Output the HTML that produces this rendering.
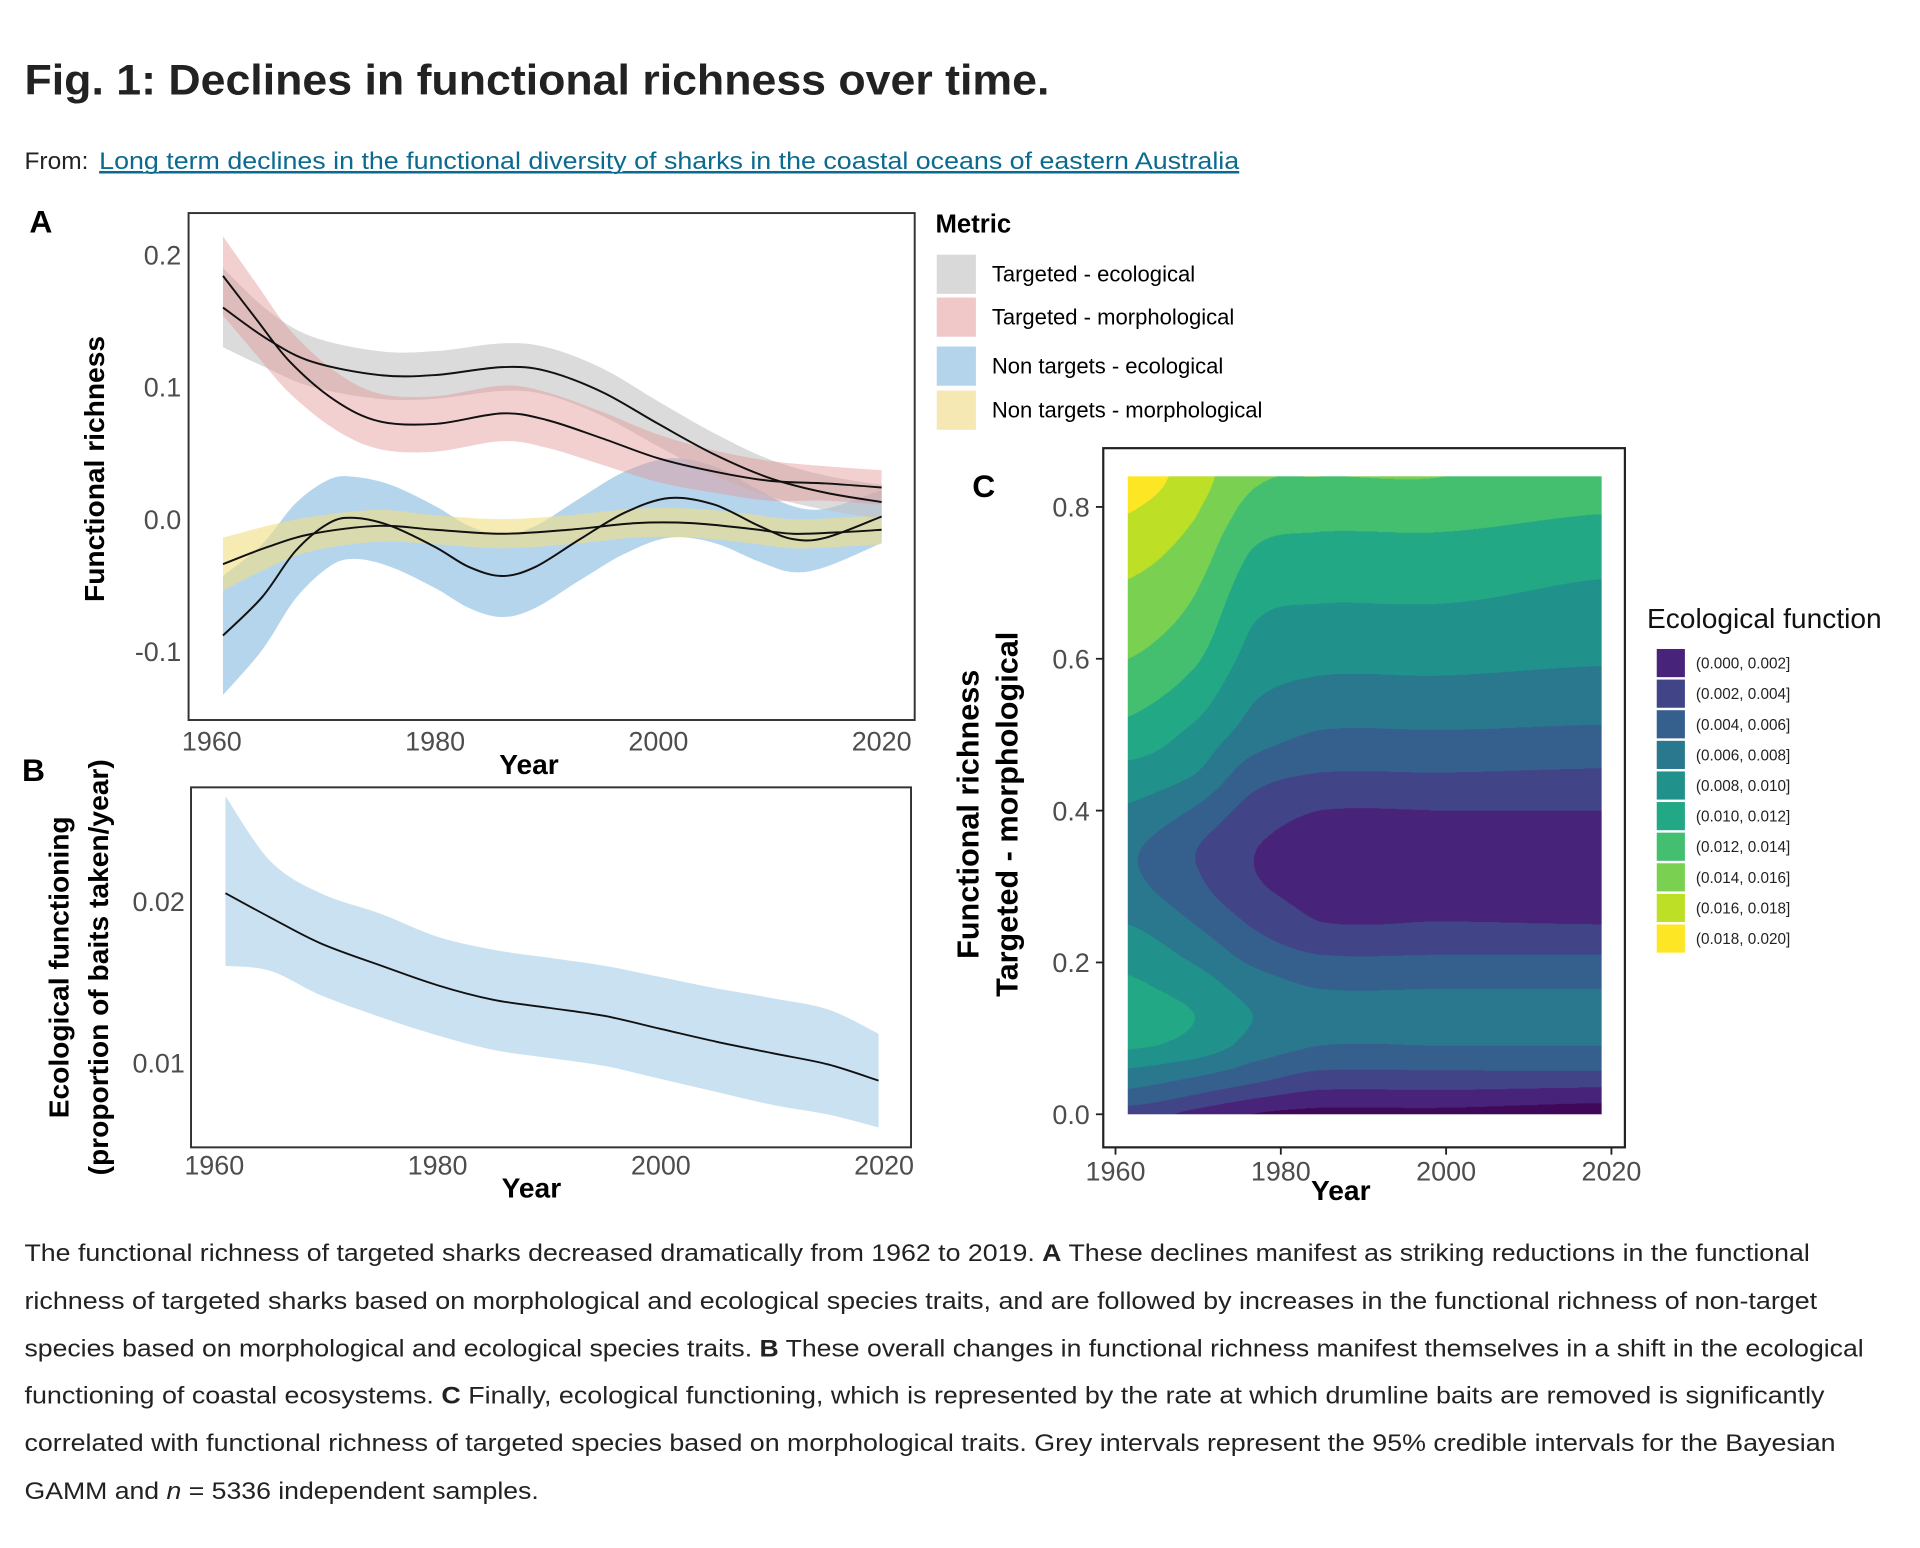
<!DOCTYPE html>
<html><head><meta charset="utf-8"><style>
html,body{margin:0;padding:0;background:#fff;overflow:hidden}
#wrap{position:absolute;left:0;top:0;width:1568px;height:1264px;transform:scale(1.22449);transform-origin:0 0}
#svg{position:absolute;left:0;top:0}
#contour{position:absolute;left:920px;top:389px;width:389px;height:521px}
text{font-family:"Liberation Sans",sans-serif}
</style></head><body>
<div id="wrap">
<svg id="svg" width="1568" height="1264" viewBox="0 0 1568 1264" xmlns="http://www.w3.org/2000/svg">
<text x="20" y="77" font-size="35" font-weight="bold" fill="#222" textLength="837" lengthAdjust="spacingAndGlyphs">Fig. 1: Declines in functional richness over time.</text>
<text x="20" y="138" font-size="20" fill="#222">From: </text>
<text x="81" y="138" font-size="20" fill="#0b6a8f" text-decoration="underline" textLength="931" lengthAdjust="spacingAndGlyphs">Long term declines in the functional diversity of sharks in the coastal oceans of eastern Australia</text>
<line x1="81" y1="141" x2="1012" y2="141" stroke="#0b6a8f" stroke-width="1.3"/>

<text x="24" y="190" font-size="26" font-weight="bold">A</text>
<g id="gA"></g>
<rect x="154" y="174" width="593" height="414" fill="none" stroke="#333" stroke-width="1.6"/>
<text transform="translate(85,383) rotate(-90)" text-anchor="middle" font-size="23" font-weight="bold">Functional richness</text>
<text x="432" y="632" text-anchor="middle" font-size="23" font-weight="bold">Year</text>

<text x="764" y="190" font-size="21" font-weight="bold">Metric</text>
<rect x="765" y="208" width="32" height="32" fill="#d9d9d9"/>
<rect x="765" y="243" width="32" height="32" fill="#f0c8c8"/>
<rect x="765" y="283" width="32" height="32" fill="#b3d4ea"/>
<rect x="765" y="319" width="32" height="32" fill="#f6e8b2"/>
<text x="810" y="230" font-size="18">Targeted - ecological</text>
<text x="810" y="265" font-size="18">Targeted - morphological</text>
<text x="810" y="305" font-size="18">Non targets - ecological</text>
<text x="810" y="341" font-size="18">Non targets - morphological</text>

<text x="18" y="638" font-size="26" font-weight="bold">B</text>
<g id="gB"></g>
<rect x="156" y="643" width="588" height="294" fill="none" stroke="#333" stroke-width="1.6"/>
<text transform="translate(56,790) rotate(-90)" text-anchor="middle" font-size="23" font-weight="bold">Ecological functioning</text>
<text transform="translate(88,790) rotate(-90)" text-anchor="middle" font-size="23" font-weight="bold">(proportion of baits taken/year)</text>
<text x="434" y="978" text-anchor="middle" font-size="23" font-weight="bold">Year</text>

<text x="794" y="406" font-size="26" font-weight="bold">C</text>
<g id="gC"></g>
<rect x="901" y="366" width="426" height="571" fill="none" stroke="#222" stroke-width="1.8"/>
<text transform="translate(799,665) rotate(-90)" text-anchor="middle" font-size="25" font-weight="bold">Functional richness</text>
<text transform="translate(831,665) rotate(-90)" text-anchor="middle" font-size="25" font-weight="bold">Targeted - morphological</text>
<text x="1095" y="980" text-anchor="middle" font-size="23" font-weight="bold">Year</text>
<text x="1345" y="513" font-size="23" fill="#111">Ecological function</text>
<g id="gLegC"></g>

<g font-size="20" fill="#222">
<text x="20" y="1030" textLength="1458" lengthAdjust="spacingAndGlyphs">The functional richness of targeted sharks decreased dramatically from 1962 to 2019. <tspan font-weight="bold">A</tspan> These declines manifest as striking reductions in the functional</text>
<text x="20" y="1069" textLength="1464" lengthAdjust="spacingAndGlyphs">richness of targeted sharks based on morphological and ecological species traits, and are followed by increases in the functional richness of non-target</text>
<text x="20" y="1108" textLength="1502" lengthAdjust="spacingAndGlyphs">species based on morphological and ecological species traits. <tspan font-weight="bold">B</tspan> These overall changes in functional richness manifest themselves in a shift in the ecological</text>
<text x="20" y="1146" textLength="1470" lengthAdjust="spacingAndGlyphs">functioning of coastal ecosystems. <tspan font-weight="bold">C</tspan> Finally, ecological functioning, which is represented by the rate at which drumline baits are removed is significantly</text>
<text x="20" y="1185" textLength="1479" lengthAdjust="spacingAndGlyphs">correlated with functional richness of targeted species based on morphological traits. Grey intervals represent the 95% credible intervals for the Bayesian</text>
<text x="20" y="1224" textLength="420" lengthAdjust="spacingAndGlyphs">GAMM and <tspan font-style="italic">n</tspan> = 5336 independent samples.</text>
</g>
</svg>
<canvas id="contour" width="778" height="1042"></canvas>
</div>
<script>
// ---------- Panel A data ----------
const teYears=[1961,1965,1969,1975,1980,1986,1990,1995,2000,2005,2010,2015,2020];
const teVals=[0.160,0.136,0.119,0.109,0.109,0.115,0.112,0.096,0.072,0.049,0.031,0.020,0.013];
const teHalf=[0.03,0.022,0.019,0.018,0.018,0.018,0.018,0.018,0.017,0.016,0.014,0.013,0.013];
const tmYears=[1961,1964,1967,1971,1975,1980,1986,1990,1995,2000,2005,2010,2015,2020];
const tmVals=[0.184,0.151,0.119,0.090,0.074,0.072,0.080,0.075,0.061,0.046,0.036,0.029,0.027,0.024];
const tmHalf=[0.03,0.027,0.024,0.022,0.021,0.021,0.021,0.021,0.02,0.018,0.016,0.015,0.013,0.013];
const neYears=[1961,1964.5,1967.5,1970.5,1972.8,1976,1980,1983,1986,1989,1993,1997,2001,2005,2009,2012,2015,2020];
const neVals=[-0.088,-0.059,-0.024,-0.003,0.001,-0.005,-0.021,-0.036,-0.043,-0.036,-0.015,0.005,0.016,0.011,-0.005,-0.015,-0.014,0.002];
const neHalf=[0.045,0.04,0.036,0.033,0.031,0.031,0.031,0.031,0.031,0.031,0.031,0.031,0.03,0.029,0.027,0.025,0.022,0.02];
const nmYears=[1961,1965,1969,1975,1980,1986,1992,1998,2003,2008,2012,2016,2020];
const nmVals=[-0.034,-0.021,-0.011,-0.005,-0.008,-0.011,-0.008,-0.003,-0.003,-0.007,-0.011,-0.010,-0.008];
const nmHalf=[0.02,0.016,0.013,0.012,0.011,0.011,0.011,0.011,0.011,0.011,0.011,0.011,0.011];
const aYTicks=[0.2,0.1,0.0,-0.1];
const aYTickLabels=["0.2","0.1","0.0","-0.1"];
const xTicks=[1960,1980,2000,2020];
// ---------- Panel B data ----------
const bYears=[1961,1965,1969.5,1975,1980,1985,1990,1995,2000,2005,2010,2015,2019.5];
const bMean=[0.0205,0.019,0.0174,0.016,0.0148,0.0139,0.0134,0.0129,0.0121,0.0113,0.0106,0.0099,0.0089];
const bHi=[0.0265,0.0225,0.0205,0.0192,0.0178,0.017,0.0165,0.016,0.0153,0.0146,0.014,0.0133,0.0118];
const bLo=[0.016,0.0157,0.0142,0.0128,0.0117,0.0108,0.0103,0.0098,0.009,0.0082,0.0074,0.0068,0.006];
const bYTicks=[0.02,0.01];
const bYTickLabels=["0.02","0.01"];
// ---------- Panel C data ----------
const cYears=[1962,1970,1977,1985,2000,2019];
const cRich=[0,0.02,0.04,0.06,0.09,0.13,0.17,0.21,0.25,0.30,0.35,0.40,0.45,0.50,0.55,0.60,0.65,0.70,0.75,0.80,0.84];
const cZ1962=[3,5,6.5,8,10.3,11,10.3,9.3,8,6.5,6.3,7.7,9.4,11.3,12.7,14,15,15.9,17,18.2,19.2];
const cZ1970=[1.5,3.5,5.3,7,9.3,10,9,7.5,6,4.5,4.1,5.8,8.1,9.5,11,12.3,13.4,14.3,15.3,16.3,17];
const cZ1977=[0,2,4,5.5,7.3,8,7,5.3,3.8,2.3,2.1,3.2,5,7.1,8.2,9.3,10.1,11.1,12.1,13.4,14.3];
const cZ1985=[-0.5,1,2.7,4.2,6,7,5.8,4,2.1,1.3,1.2,2.0,4,5.8,7.3,8.5,9.5,10.6,11.6,12.8,14];
const cZ2000=[-0.5,1,2.7,4.2,6,7,5.8,4,2.1,1.3,1.2,2.0,4,5.8,7.3,8.5,9.5,10.6,11.6,12.8,14];
const cZ2019=[-1,0.5,2.5,4.3,6,7,5.8,4,2,1.3,1.2,2,3.8,5.6,7,8.2,9,9.9,11,12.2,13];
const cYTicks=[0,0.2,0.4,0.6,0.8];
const cYTickLabels=["0.0","0.2","0.4","0.6","0.8"];
const levelLabels=["(0.000, 0.002]","(0.002, 0.004]","(0.004, 0.006]","(0.006, 0.008]","(0.008, 0.010]","(0.010, 0.012]","(0.012, 0.014]","(0.014, 0.016]","(0.016, 0.018]","(0.018, 0.020]"];
const levelColors=["#48237a","#414487","#35608d","#2a788e","#21918c","#22a884","#44bf70","#7ad151","#bddf26","#fde725"];

const NS="http://www.w3.org/2000/svg";
function mk(tag,attrs,parent){const e=document.createElementNS(NS,tag);for(const k in attrs)e.setAttribute(k,attrs[k]);parent.appendChild(e);return e;}
function smooth(pts){let d="M"+pts[0][0].toFixed(1)+","+pts[0][1].toFixed(1);
 for(let i=0;i<pts.length-1;i++){const p0=pts[Math.max(i-1,0)],p1=pts[i],p2=pts[i+1],p3=pts[Math.min(i+2,pts.length-1)];
  const c1=[p1[0]+(p2[0]-p0[0])/6,p1[1]+(p2[1]-p0[1])/6],c2=[p2[0]-(p3[0]-p1[0])/6,p2[1]-(p3[1]-p1[1])/6];
  d+=" C"+c1[0].toFixed(1)+","+c1[1].toFixed(1)+" "+c2[0].toFixed(1)+","+c2[1].toFixed(1)+" "+p2[0].toFixed(1)+","+p2[1].toFixed(1);}
 return d;}
function bandPath(xs,lo,hi){const up=xs.map((x,i)=>[x,hi[i]]),dn=xs.map((x,i)=>[x,lo[i]]).reverse();
 const a=smooth(up),b=smooth(dn).replace(/^M/,"L");return a+" "+b+" Z";}

const axA=y=>173+(y-1960)*9.117, ayA=v=>424-v*1080;
const gA=document.getElementById('gA');
const seriesA=[
 {n:'non-targets-ecological',y:neYears,v:neVals,h:neHalf,c:'rgba(120,178,222,0.55)'},
 {n:'non-targets-morphological',y:nmYears,v:nmVals,h:nmHalf,c:'rgba(242,222,130,0.6)'},
 {n:'targeted-ecological',y:teYears,v:teVals,h:teHalf,c:'rgba(195,195,195,0.6)'},
 {n:'targeted-morphological',y:tmYears,v:tmVals,h:tmHalf,c:'rgba(228,150,150,0.45)'}];
seriesA.forEach(s=>{const xs=s.y.map(axA);
 const p=mk('path',{d:bandPath(xs,s.v.map((v,i)=>ayA(v-s.h[i])),s.v.map((v,i)=>ayA(v+s.h[i]))),fill:s.c},gA);
 
 });
seriesA.forEach(s=>{const pts=s.y.map((y,i)=>[axA(y),ayA(s.v[i])]);
 const l=mk('path',{d:smooth(pts),fill:'none',stroke:'#111','stroke-width':1.6},gA);
 
 });
aYTicks.forEach((t,i)=>{const tx=mk('text',{x:148,y:ayA(t)+8,'text-anchor':'end','font-size':22,fill:'#4d4d4d'},gA);tx.textContent=aYTickLabels[i];
 
 });
xTicks.forEach(t=>{const tx=mk('text',{x:axA(t),y:613,'text-anchor':'middle','font-size':22,fill:'#4d4d4d'},gA);tx.textContent=t;
 
 });

const axB=y=>175+(y-1960)*9.117, ayB=v=>868-(v-0.01)*13200;
const gB=document.getElementById('gB');
const bx=bYears.map(axB);
const bb=mk('path',{d:bandPath(bx,bLo.map(ayB),bHi.map(ayB)),fill:'#c9e1f1'},gB);


const bl=mk('path',{d:smooth(bYears.map((y,i)=>[axB(y),ayB(bMean[i])])),fill:'none',stroke:'#111','stroke-width':1.5},gB);


bYTicks.forEach((t,i)=>{const tx=mk('text',{x:151,y:ayB(t)+8,'text-anchor':'end','font-size':22,fill:'#4d4d4d'},gB);tx.textContent=bYTickLabels[i];
 
 });
xTicks.forEach(t=>{const tx=mk('text',{x:axB(t),y:959,'text-anchor':'middle','font-size':22,fill:'#4d4d4d'},gB);tx.textContent=t;
 
 });

const axC=y=>911+(y-1960)*6.75, ayC=r=>910-r*620;
const gC=document.getElementById('gC');
cYTicks.forEach((t,i)=>{mk('line',{x1:895,x2:901,y1:ayC(t),y2:ayC(t),stroke:'#222','stroke-width':1.5},gC);
 const tx=mk('text',{x:890,y:ayC(t)+8,'text-anchor':'end','font-size':22,fill:'#4d4d4d'},gC);tx.textContent=cYTickLabels[i];
 
 });
xTicks.forEach(t=>{mk('line',{x1:axC(t),x2:axC(t),y1:937,y2:943,stroke:'#222','stroke-width':1.5},gC);
 const tx=mk('text',{x:axC(t),y:964,'text-anchor':'middle','font-size':22,fill:'#4d4d4d'},gC);tx.textContent=t;
 
 });
const gL=document.getElementById('gLegC');
levelLabels.forEach((lab,i)=>{const r=mk('rect',{x:1353,y:530+i*25,width:23,height:23,fill:levelColors[i]},gL);
 
 
 const tx=mk('text',{x:1385,y:546+i*25,'font-size':12.5,fill:'#222'},gL);tx.textContent=lab;
 
 });

(function(){
 const cols=[cZ1962,cZ1970,cZ1977,cZ1985,cZ2000,cZ2019];
 const cv=document.getElementById('contour'),ctx=cv.getContext('2d');
 const W=cv.width,H=cv.height,img=ctx.createImageData(W,H);
 const x0=axC(1962),x1=axC(2019),rMax=cRich[cRich.length-1];
 const rgb=levelColors.map(h=>[parseInt(h.substr(1,2),16),parseInt(h.substr(3,2),16),parseInt(h.substr(5,2),16)]);
 const dark=[63,8,88];
 function seg(arr,v){let i=0;while(i<arr.length-2&&v>arr[i+1])i++;return [i,Math.max(0,Math.min(1,(v-arr[i])/(arr[i+1]-arr[i])))];}
 // monotone-ish cubic (Catmull-Rom with uniform param) interpolation
 function cr(vals,i,t){const n=vals.length;const p0=vals[Math.max(i-1,0)],p1=vals[i],p2=vals[Math.min(i+1,n-1)],p3=vals[Math.min(i+2,n-1)];
  const t2=t*t,t3=t2*t;
  let v=0.5*((2*p1)+(-p0+p2)*t+(2*p0-5*p1+4*p2-p3)*t2+(-p0+3*p1-3*p2+p3)*t3);
  const lo=Math.min(p1,p2),hi=Math.max(p1,p2);return Math.max(lo-0.6,Math.min(hi+0.6,v));}
 // precompute each column at each pixel row
 const colRows=cols.map(()=>new Float32Array(H));
 for(let py=0;py<H;py++){const r=rMax*(1-py/(H-1));const [ri,rt]=seg(cRich,r);
  cols.forEach((c,j)=>{colRows[j][py]=cr(c,ri,rt);});}
 const colIdx=[],colT=[];
 for(let px=0;px<W;px++){const yr=1962+(px/(W-1))*(2019-1962);const [ci,ct]=seg(cYears,yr);colIdx.push(ci);colT.push(ct);}
 for(let py=0;py<H;py++){
  const rowVals=colRows.map(a=>a[py]);
  for(let px=0;px<W;px++){
   const z=cr(rowVals,colIdx[px],colT[px]);
   let c; if(z<0)c=dark; else c=rgb[Math.min(9,Math.floor(z/2))];
   const k=(py*W+px)*4;img.data[k]=c[0];img.data[k+1]=c[1];img.data[k+2]=c[2];img.data[k+3]=255;}
 }
 ctx.putImageData(img,0,0);
 cv.style.left=(x0-4)+'px';cv.style.width=(x1-x0+3)+'px';
})();
</script>
</body></html>
